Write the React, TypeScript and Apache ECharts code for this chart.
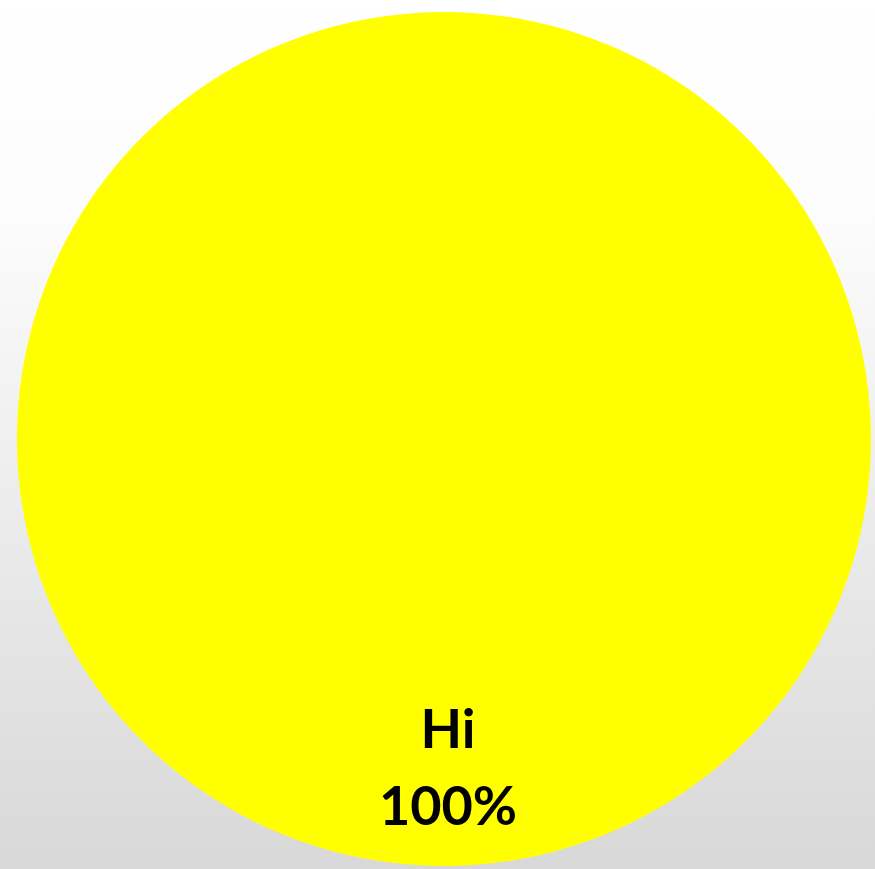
import React, { useEffect, useRef } from "react";
import * as echarts from "echarts";

const categories = ["Hi"];
const values = [100];

export default function App() {
  const ref = useRef<HTMLDivElement>(null);
  useEffect(() => {
    document.body.style.margin = "0";
    const chart = echarts.init(ref.current!, undefined, { renderer: "svg" });
    chart.setOption({
      animation: false,
      backgroundColor: {
        type: "linear",
        x: 0,
        y: 0,
        x2: 0,
        y2: 1,
        colorStops: [
          { offset: 0, color: "#ffffff" },
          { offset: 0.25, color: "#fcfcfc" },
          { offset: 1, color: "#d8d8d8" },
        ],
      },
      series: [
        {
          type: "pie",
          center: [444, 439],
          radius: 427,
          startAngle: 90,
          clockwise: true,
          itemStyle: { color: "#ffff00" },
          emphasis: { disabled: true },
          label: {
            show: true,
            position: "inside",
            formatter: "{b}\n{d}%",
            color: "#000000",
            fontFamily: "Lato",
            fontWeight: "bold",
            fontSize: 54,
            lineHeight: 77,
          },
          labelLayout: { dx: 4, dy: 110 },
          data: categories.map((c, i) => ({ name: c, value: values[i] })),
        },
      ],
    });
    return () => chart.dispose();
  }, []);
  return <div ref={ref} style={{ width: 875, height: 869 }} />;
}
